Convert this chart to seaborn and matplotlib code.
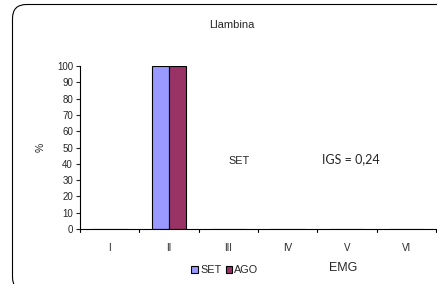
import matplotlib
matplotlib.use("Agg")
import matplotlib.pyplot as plt
import seaborn as sns
import pandas as pd
from matplotlib.patches import FancyBboxPatch, Patch

categories = ["I", "II", "III", "IV", "V", "VI"]
set_values = [0, 100, 0, 0, 0, 0]
ago_values = [0, 100, 0, 0, 0, 0]
series_names = ["SET", "AGO"]
colors = ["#9999FF", "#993366"]
y_ticks = list(range(0, 101, 10))

df = pd.DataFrame({
    "EMG": categories * 2,
    "value": set_values + ago_values,
    "serie": [series_names[0]] * len(categories) + [series_names[1]] * len(categories),
})

sns.set_style("white")
plt.rcParams["font.family"] = ["Liberation Sans", "DejaVu Sans"]

fig = plt.figure(figsize=(4.37, 2.84), dpi=100)
ax = fig.add_axes([80 / 437, 1 - 229 / 284, 356 / 437, (229 - 66) / 284])

sns.barplot(data=df, x="EMG", y="value", hue="serie", order=categories,
            hue_order=series_names, palette=colors, width=0.58, saturation=1,
            edgecolor="black", linewidth=0.8, ax=ax, legend=False)

ax.set_ylim(0, 100)
ax.set_xlim(-0.5, len(categories) - 0.5)
ax.set_yticks(y_ticks)
ax.set_yticklabels([str(t) for t in y_ticks], fontsize=7)
ax.set_xticks(range(len(categories)))
ax.set_xticklabels(categories, fontsize=7)
ax.tick_params(axis="x", length=0, pad=10)
ax.tick_params(axis="y", length=3, width=0.8, direction="out", pad=2, left=True)
# category boundary ticks
for b in [i - 0.5 for i in range(len(categories) + 1)]:
    ax.plot([b, b], [0, -2], color="black", lw=0.8, clip_on=False)
ax.set_xlabel("")
ax.set_ylabel("%", fontsize=7.5, labelpad=8)
for s in ["top", "right"]:
    ax.spines[s].set_visible(False)
for s in ["left", "bottom"]:
    ax.spines[s].set_color("black")
    ax.spines[s].set_linewidth(0.8)

fig.text(232 / 437, 1 - 25 / 284, "Llambina", ha="center", va="center", fontsize=8)
fig.text(239 / 437, 1 - 161 / 284, "SET", ha="center", va="center", fontsize=7.8)
fig.text(351 / 437, 1 - 159 / 284, "IGS = 0,24", ha="center", va="center", fontsize=9,
         family=["Lato", "DejaVu Sans"])
fig.text(343 / 437, 1 - 268 / 284, "EMG", ha="center", va="center", fontsize=9)

handles = [Patch(facecolor=c, edgecolor="black", linewidth=0.8) for c in colors]
fig.legend(handles, series_names, loc="center", bbox_to_anchor=(225 / 437, 1 - 270 / 284),
           ncol=2, frameon=False, fontsize=7.8, handlelength=0.6, handleheight=0.6,
           handletextpad=0.2, columnspacing=0.4, borderpad=0)

border = FancyBboxPatch((0.125, -0.07), 5.0, 2.84 - 0.045 + 0.07,
                        boxstyle="round,pad=0,rounding_size=0.14",
                        transform=fig.dpi_scale_trans, facecolor="none",
                        edgecolor="black", linewidth=0.8)
fig.patches.append(border)

fig.savefig("out.png", dpi=100)
